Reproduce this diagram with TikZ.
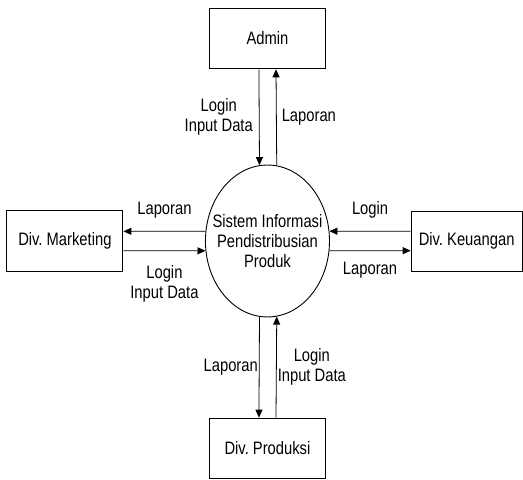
\documentclass[tikz,border=0pt]{standalone}
\usepackage{fontspec}
\setmainfont{Liberation Sans}[FakeStretch=0.82]
\usepackage{tikz}
\usetikzlibrary{arrows.meta,positioning,shapes.geometric}
\frenchspacing

\begin{document}
\begin{tikzpicture}[
  font=\fontsize{18}{20}\selectfont,
  entity/.style={draw, line width=0.9pt, align=center, minimum width=4.08cm, minimum height=2.14cm, inner sep=2pt},
  proc/.style={draw, ellipse, line width=0.9pt, minimum width=4.36cm, minimum height=5.34cm, inner sep=0pt},
  flow/.style={-{Triangle[length=8pt,width=7pt]}, line width=0.8pt},
  lab/.style={align=center, inner sep=1pt}
]
\useasboundingbox (0,0) rectangle (18.381,-16.835);

\node[entity] (admin) at (9.40,-1.35) {Admin};
\node[proc] (proc) at (9.40,-8.47) {};
\node[lab] (proctext) at (proc.center) {Sistem Informasi\\Pendistribusian\\Produk};
\node[entity] (mkt) at (2.28,-8.47) {Div. Marketing};
\node[entity, minimum width=3.90cm, minimum height=2.11cm] (keu) at (16.40,-8.47) {Div. Keuangan};
\node[entity, minimum height=2.11cm] (prod) at (9.40,-15.75) {Div. Produksi};

% Admin
\draw[flow] ([xshift=-0.3cm]admin.south) -- node[lab,left=5pt]{Login\\Input Data} (proc.96.4);
\draw[flow] (proc.83.6) -- node[lab,right=4pt]{Laporan} ([xshift=0.3cm]admin.south);

% Div. Marketing
\draw[flow] (proc.171) -- node[lab,above=12pt]{Laporan} ([yshift=0.34cm]mkt.east);
\draw[flow] ([yshift=-0.34cm]mkt.east) -- node[lab,below=13pt]{Login\\Input Data} (proc.189);

% Div. Keuangan
\draw[flow] ([yshift=0.34cm]keu.west) -- node[lab,above=12pt]{Login} (proc.9);
\draw[flow] (proc.-9) -- node[lab,below=10pt]{Laporan} ([yshift=-0.34cm]keu.west);

% Div. Produksi
\draw[flow] (proc.-96.4) -- node[lab,left]{Laporan} ([xshift=-0.3cm]prod.north);
\draw[flow] ([xshift=0.3cm]prod.north) -- node[lab,right]{Login\\Input Data} (proc.-83.6);
\end{tikzpicture}
\end{document}
